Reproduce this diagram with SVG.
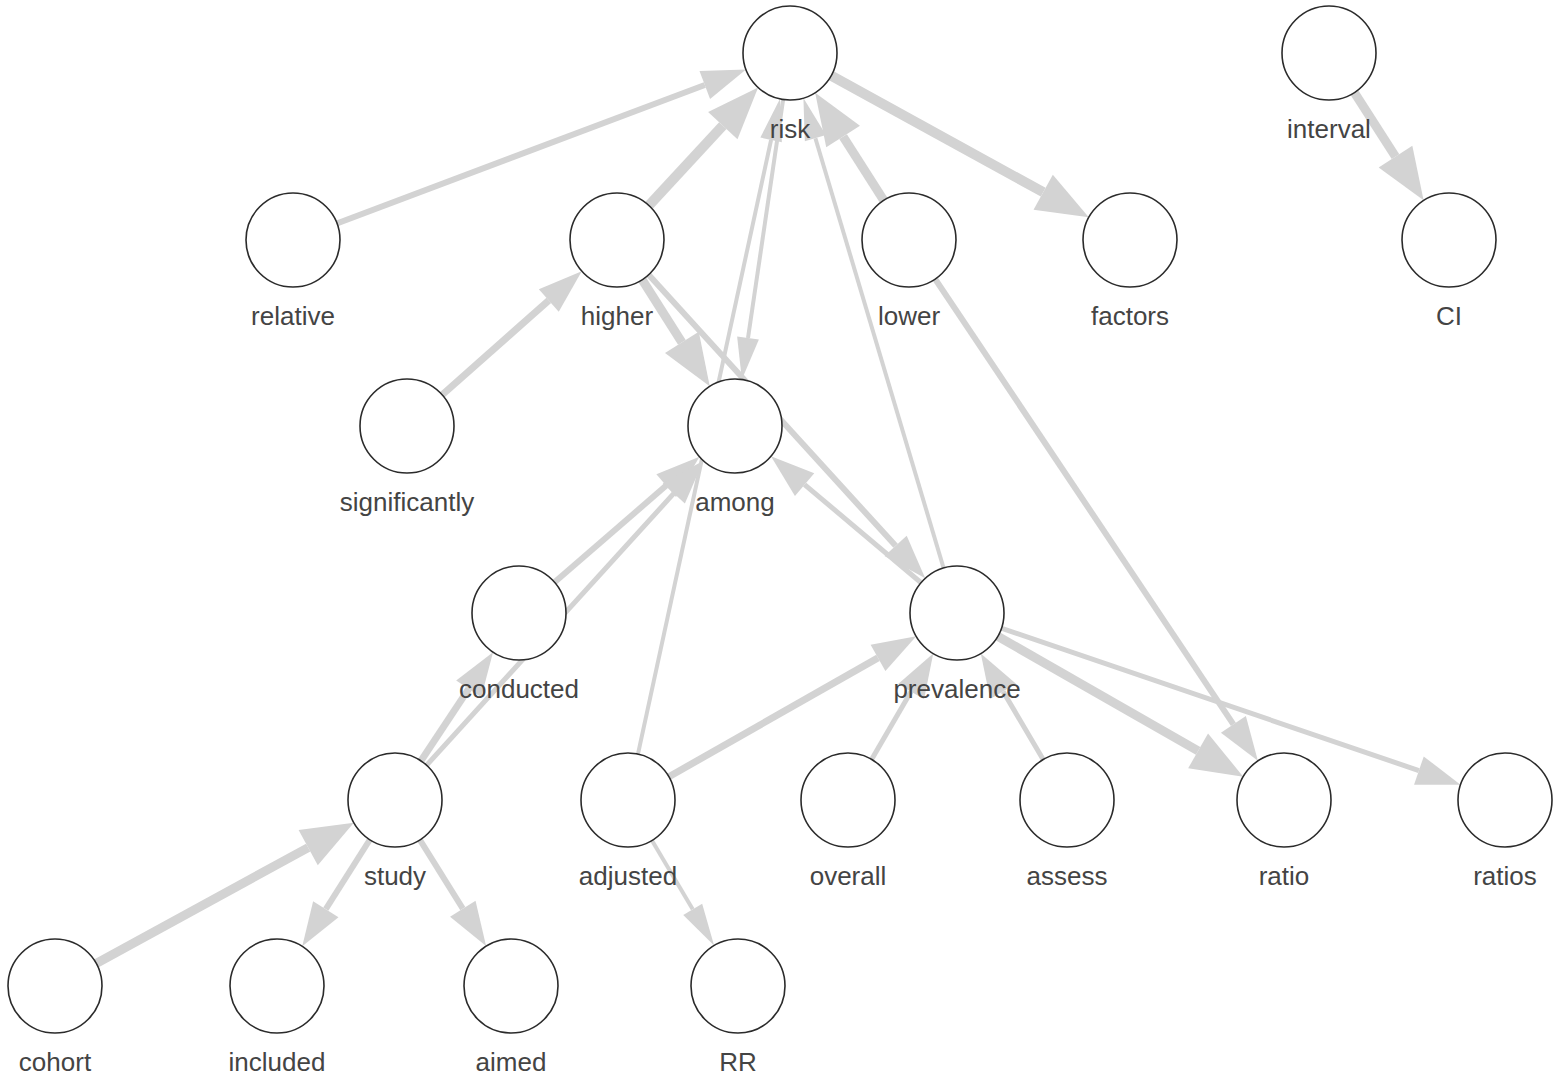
<svg xmlns="http://www.w3.org/2000/svg" width="1568" height="1083" viewBox="0 0 1568 1083">
<style>
.e{stroke:#d3d3d3;fill:none;stroke-linecap:butt}
.n circle{fill:#fff;stroke:#2b2b2b;stroke-width:1.6}
.n text{font-family:"Liberation Sans",Arial,sans-serif;font-size:26px;fill:#444;text-anchor:middle}
</style>
<defs>
<marker id="aS" markerUnits="userSpaceOnUse" markerWidth="42" markerHeight="22" refX="0" refY="11" orient="auto" overflow="visible"><path d="M0,0 L42,11 L0,22 z" fill="#d3d3d3"/></marker>
<marker id="aM" markerUnits="userSpaceOnUse" markerWidth="44" markerHeight="30" refX="0" refY="15" orient="auto" overflow="visible"><path d="M0,0 L44,15 L0,30 z" fill="#d3d3d3"/></marker>
<marker id="aL" markerUnits="userSpaceOnUse" markerWidth="52" markerHeight="40" refX="0" refY="20" orient="auto" overflow="visible"><path d="M0,0 L52,20 L0,40 z" fill="#d3d3d3"/></marker>
</defs>
<g id="edges">
<line class="e" x1="293" y1="240" x2="704.8" y2="85" stroke-width="6" marker-end="url(#aM)"/>
<line class="e" x1="617" y1="240" x2="722.8" y2="125.7" stroke-width="10" marker-end="url(#aL)"/>
<line class="e" x1="628" y1="800" x2="771.1" y2="139.9" stroke-width="4" marker-end="url(#aS)"/>
<line class="e" x1="790" y1="53" x2="748" y2="338" stroke-width="4" marker-end="url(#aS)"/>
<line class="e" x1="957" y1="613" x2="815.4" y2="138.2" stroke-width="4" marker-end="url(#aS)"/>
<line class="e" x1="909" y1="240" x2="843.1" y2="136.6" stroke-width="9" marker-end="url(#aL)"/>
<line class="e" x1="790" y1="53" x2="1043.2" y2="192.2" stroke-width="10" marker-end="url(#aL)"/>
<line class="e" x1="1329" y1="53" x2="1395.5" y2="156.6" stroke-width="9" marker-end="url(#aL)"/>
<line class="e" x1="407" y1="426" x2="548.8" y2="300.4" stroke-width="7" marker-end="url(#aM)"/>
<line class="e" x1="617" y1="240" x2="681.9" y2="342.4" stroke-width="9" marker-end="url(#aL)"/>
<line class="e" x1="617" y1="240" x2="895.6" y2="545.8" stroke-width="6" marker-end="url(#aM)"/>
<line class="e" x1="957" y1="613" x2="804.6" y2="484.6" stroke-width="5" marker-end="url(#aM)"/>
<line class="e" x1="519" y1="613" x2="666.2" y2="485.6" stroke-width="6" marker-end="url(#aM)"/>
<line class="e" x1="395" y1="800" x2="673.8" y2="493.4" stroke-width="5" marker-end="url(#aM)"/>
<line class="e" x1="395" y1="800" x2="468.7" y2="688.9" stroke-width="7" marker-end="url(#aM)"/>
<line class="e" x1="55" y1="986" x2="308.2" y2="847.6" stroke-width="9" marker-end="url(#aL)"/>
<line class="e" x1="395" y1="800" x2="325.8" y2="909.2" stroke-width="6" marker-end="url(#aM)"/>
<line class="e" x1="395" y1="800" x2="462.8" y2="908.7" stroke-width="6" marker-end="url(#aM)"/>
<line class="e" x1="628" y1="800" x2="692.7" y2="909.3" stroke-width="4" marker-end="url(#aS)"/>
<line class="e" x1="628" y1="800" x2="878" y2="657.9" stroke-width="7" marker-end="url(#aM)"/>
<line class="e" x1="848" y1="800" x2="911.1" y2="691.6" stroke-width="5" marker-end="url(#aM)"/>
<line class="e" x1="1067" y1="800" x2="1003.1" y2="691.4" stroke-width="5" marker-end="url(#aM)"/>
<line class="e" x1="957" y1="613" x2="1198.1" y2="750.9" stroke-width="9" marker-end="url(#aL)"/>
<line class="e" x1="957" y1="613" x2="1418.9" y2="770.6" stroke-width="5" marker-end="url(#aM)"/>
<line class="e" x1="909" y1="240" x2="1233.4" y2="724.3" stroke-width="6" marker-end="url(#aM)"/>
</g>
<g id="n-risk" class="n"><circle cx="790" cy="53" r="47"/><text x="790" y="138">risk</text></g>
<g id="n-interval" class="n"><circle cx="1329" cy="53" r="47"/><text x="1329" y="138">interval</text></g>
<g id="n-relative" class="n"><circle cx="293" cy="240" r="47"/><text x="293" y="325">relative</text></g>
<g id="n-higher" class="n"><circle cx="617" cy="240" r="47"/><text x="617" y="325">higher</text></g>
<g id="n-lower" class="n"><circle cx="909" cy="240" r="47"/><text x="909" y="325">lower</text></g>
<g id="n-factors" class="n"><circle cx="1130" cy="240" r="47"/><text x="1130" y="325">factors</text></g>
<g id="n-CI" class="n"><circle cx="1449" cy="240" r="47"/><text x="1449" y="325">CI</text></g>
<g id="n-significantly" class="n"><circle cx="407" cy="426" r="47"/><text x="407" y="511">significantly</text></g>
<g id="n-among" class="n"><circle cx="735" cy="426" r="47"/><text x="735" y="511">among</text></g>
<g id="n-conducted" class="n"><circle cx="519" cy="613" r="47"/><text x="519" y="698">conducted</text></g>
<g id="n-prevalence" class="n"><circle cx="957" cy="613" r="47"/><text x="957" y="698">prevalence</text></g>
<g id="n-study" class="n"><circle cx="395" cy="800" r="47"/><text x="395" y="885">study</text></g>
<g id="n-adjusted" class="n"><circle cx="628" cy="800" r="47"/><text x="628" y="885">adjusted</text></g>
<g id="n-overall" class="n"><circle cx="848" cy="800" r="47"/><text x="848" y="885">overall</text></g>
<g id="n-assess" class="n"><circle cx="1067" cy="800" r="47"/><text x="1067" y="885">assess</text></g>
<g id="n-ratio" class="n"><circle cx="1284" cy="800" r="47"/><text x="1284" y="885">ratio</text></g>
<g id="n-ratios" class="n"><circle cx="1505" cy="800" r="47"/><text x="1505" y="885">ratios</text></g>
<g id="n-cohort" class="n"><circle cx="55" cy="986" r="47"/><text x="55" y="1071">cohort</text></g>
<g id="n-included" class="n"><circle cx="277" cy="986" r="47"/><text x="277" y="1071">included</text></g>
<g id="n-aimed" class="n"><circle cx="511" cy="986" r="47"/><text x="511" y="1071">aimed</text></g>
<g id="n-RR" class="n"><circle cx="738" cy="986" r="47"/><text x="738" y="1071">RR</text></g>
</svg>
